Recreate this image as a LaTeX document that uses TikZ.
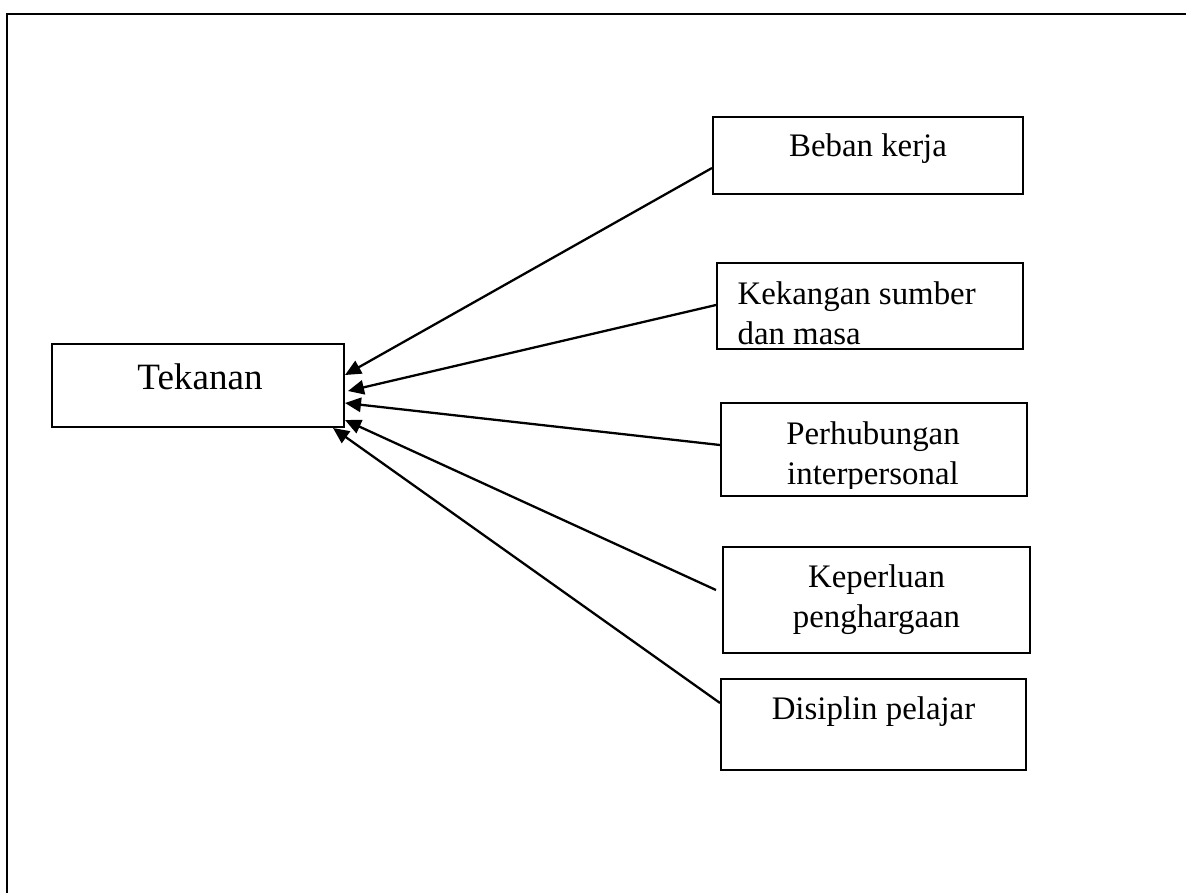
\documentclass[tikz,border=0pt]{standalone}
\usepackage{fontspec}
\setmainfont{Liberation Serif}
\usetikzlibrary{arrows.meta,positioning}
\def\unitpx{0.35pt}
\tikzset{%
    >={Triangle[width=5pt,length=5.6pt]},
    base/.style = {
        rectangle, draw=black, line width=0.7pt, inner sep=0pt
    },
    mainBox/.style = {base, minimum width=292*\unitpx, minimum height=83*\unitpx},
    factor/.style = {base},
    txt/.style = {inner sep=0pt, font=\fontsize{11.5}{14}\selectfont, align=center},
    link/.style = {->, line width=0.8pt},
}

\begin{document}
\begin{tikzpicture}[x=\unitpx, y=-\unitpx]
        \useasboundingbox (0,0) rectangle (1186,893);
        % Frame
        \draw[line width=0.7pt] (7,893) -- (7,14) -- (1186,14);

        % Nodes position
        \node (tekanan)      [mainBox] at (198,385.5) {};
        \node (tekananTxt)   [txt, font=\fontsize{13}{15}\selectfont, anchor=base]
                                at ([xshift=2*\unitpx, yshift=-46*\unitpx]tekanan.north) {Tekanan};

        \node (beban)        [factor, minimum width=310*\unitpx, minimum height=77*\unitpx]
                                at (868,155.5) {};
        \node (bebanTxt)     [txt, anchor=base]
                                at ([yshift=-40*\unitpx]beban.north) {Beban kerja};

        \node (kekangan)     [factor, minimum width=306*\unitpx, minimum height=86*\unitpx]
                                at (870,306) {};
        \begin{scope}
            \clip ([yshift=6*\unitpx]kekangan.south west) rectangle (kekangan.north east);
            \node (kekanganTxt) [txt, align=left, anchor=base west]
                                at ([xshift=21*\unitpx, yshift=-82*\unitpx]kekangan.north west)
                                {Kekangan sumber\\dan masa};
        \end{scope}

        \node (perhubungan)  [factor, minimum width=306*\unitpx, minimum height=93*\unitpx]
                                at (874,449.5) {};
        \begin{scope}
            \clip ([yshift=9*\unitpx]perhubungan.south west) rectangle (perhubungan.north east);
            \node (perhubunganTxt) [txt, anchor=base]
                                at ([xshift=-1*\unitpx, yshift=-82*\unitpx]perhubungan.north)
                                {Perhubungan\\interpersonal};
        \end{scope}

        \node (keperluan)    [factor, minimum width=307*\unitpx, minimum height=106*\unitpx]
                                at (876.5,600) {};
        \node (keperluanTxt) [txt, anchor=base]
                                at ([yshift=-81*\unitpx]keperluan.north) {Keperluan\\penghargaan};

        \node (disiplin)     [factor, minimum width=305*\unitpx, minimum height=91*\unitpx]
                                at (873.5,724.5) {};
        \node (disiplinTxt)  [txt, anchor=base]
                                at ([yshift=-41*\unitpx]disiplin.north) {Disiplin pelajar};

        % Arrow specification
        \draw[link] ([yshift=-12.5*\unitpx]beban.west) -- ([yshift=10.5*\unitpx]tekanan.east);
        \draw[link] ([yshift=1*\unitpx]kekangan.west) -- ([xshift=3*\unitpx, yshift=-5.5*\unitpx]tekanan.east);
        \draw[link] ([yshift=4.5*\unitpx]perhubungan.west) -- ([yshift=-17.5*\unitpx]tekanan.east);
        \draw[link] ([xshift=-6*\unitpx, yshift=10*\unitpx]keperluan.west) -- ([yshift=-34.5*\unitpx]tekanan.east);
        \draw[link] ([yshift=21.5*\unitpx]disiplin.west) -- ([xshift=-12*\unitpx]tekanan.south east);
    \end{tikzpicture}
\end{document}
